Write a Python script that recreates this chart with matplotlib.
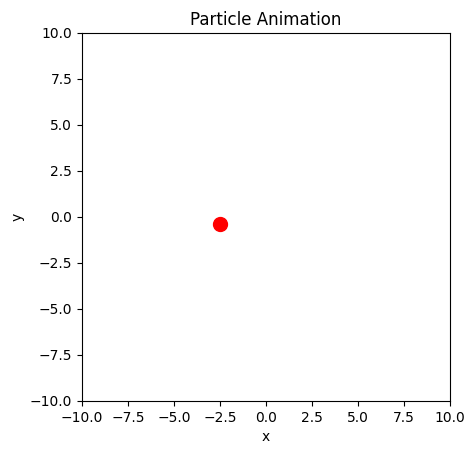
import matplotlib
matplotlib.use("Agg")
import matplotlib.pyplot as plt

px = [-2.5]
py = [-0.38]

fig = plt.figure(figsize=(4.76, 4.55), dpi=100)
ax = fig.add_axes([82/476, 54/455, 368/476, 368/455])
ax.plot(px, py, 'o', color='red', markersize=10)
ax.set_xlim(-10, 10)
ax.set_ylim(-10, 10)
ax.set_xlabel('x')
ax.set_ylabel('y')
ax.set_title('Particle Animation')
fig.savefig('out.png', dpi=100)
